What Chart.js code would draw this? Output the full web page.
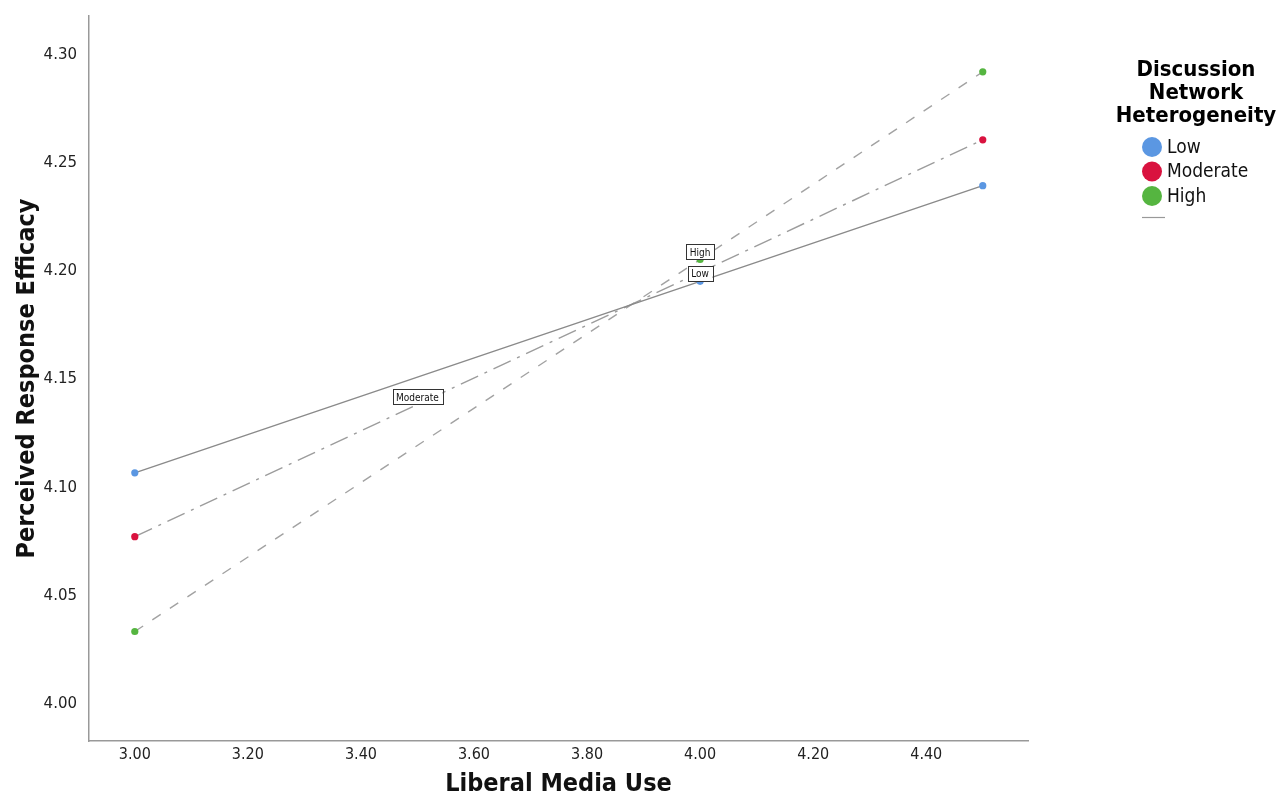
<!DOCTYPE html>
<html><head><meta charset="utf-8">
<script src="https://cdn.jsdelivr.net/npm/chart.js@4.4.1/dist/chart.umd.min.js"></script>
<style>html,body{margin:0;padding:0;background:#fff}#wrap{width:1281px;height:803px;position:relative}</style>
</head><body><div id="wrap"><canvas id="c" width="1281" height="803"></canvas></div>
<script>
const xValues = [3.00, 4.00, 4.50];
const lowValues = [4.1069, 4.1954, 4.2396];
const moderateValues = [4.0774, 4.1996, 4.2608];
const highValues = [4.0336, 4.2055, 4.2922];
const seriesNames = ['Low', 'Moderate', 'High'];
const labelXs = [4.00, 3.50, 4.00];
const yTicks = [4.00, 4.05, 4.10, 4.15, 4.20, 4.25, 4.30];
const xTicks = [3.00, 3.20, 3.40, 3.60, 3.80, 4.00, 4.20, 4.40];
const legendTitle = ['Discussion', 'Network', 'Heterogeneity'];
const xTitle = 'Liberal Media Use';
const yTitle = 'Perceived Response Efficacy';

const pointColors = ['#5b97e2', '#d9123f', '#55b540'];
const lineColors = ['#8a8a8a', '#9c9c9c', '#a2a2a2'];
const dashes = [[], [19, 7, 3, 7], [10, 11]];
const allValues = [lowValues, moderateValues, highValues];

const condensed = '"DejaVu Sans Condensed", "Liberation Sans Narrow", "Liberation Sans", sans-serif';

const datasets = seriesNames.map((n, i) => ({
  label: n,
  data: xValues.map((x, j) => ({x: x, y: allValues[i][j]})),
  borderColor: lineColors[i],
  borderWidth: 1.4,
  borderDash: dashes[i],
  pointBackgroundColor: pointColors[i],
  pointBorderColor: pointColors[i],
  pointRadius: 3.6,
  pointBorderWidth: 0,
  tension: 0,
  fill: false
}));

function interp(data, x) {
  for (let k = 0; k < data.length - 1; k++) {
    const a = data[k], b = data[k + 1];
    if (x >= a.x && x <= b.x) return a.y + (b.y - a.y) * (x - a.x) / (b.x - a.x);
  }
  return data[0].y;
}

const extras = {
  id: 'extras',
  afterDatasetsDraw(chart) {
    const ctx = chart.ctx, xs = chart.scales.x, ys = chart.scales.y;
    ctx.save();
    ctx.font = '10px "DejaVu Sans Condensed", "Liberation Sans", Arial, sans-serif';
    ctx.textAlign = 'center';
    ctx.textBaseline = 'middle';
    chart.data.datasets.forEach((ds, i) => {
      const px = xs.getPixelForValue(labelXs[i]);
      const py = ys.getPixelForValue(interp(ds.data, labelXs[i]));
      const w = ctx.measureText(ds.label).width + 7, h = 15;
      const cy = py - 7.5;
      ctx.fillStyle = '#fff';
      ctx.fillRect(px - w / 2, cy - h / 2, w, h);
      ctx.strokeStyle = '#333';
      ctx.lineWidth = 1;
      ctx.strokeRect(Math.round(px - w / 2) + 0.5, Math.round(cy - h / 2) + 0.5, Math.round(w), h);
      ctx.fillStyle = '#111';
      ctx.fillText(ds.label, px, cy + 1);
    });
    ctx.restore();
    ctx.save();
    ctx.fillStyle = '#000';
    ctx.textAlign = 'center';
    ctx.textBaseline = 'middle';
    ctx.font = 'bold 22px "DejaVu Sans Condensed", "Liberation Sans", Arial, sans-serif';
    const lx = 1196;
    legendTitle.forEach((t, k) => ctx.fillText(t, lx, 70 + k * 23));
    ctx.textAlign = 'left';
    ctx.font = '19px "DejaVu Sans Condensed", "Liberation Sans", Arial, sans-serif';
    chart.data.datasets.forEach((ds, i) => {
      const y = 147 + i * 24.5;
      ctx.beginPath();
      ctx.arc(1152, y, 10, 0, Math.PI * 2);
      ctx.fillStyle = ds.pointBackgroundColor;
      ctx.fill();
      ctx.fillStyle = '#111';
      ctx.fillText(ds.label, 1167, y + 1);
    });
    ctx.strokeStyle = '#999';
    ctx.lineWidth = 1.2;
    ctx.beginPath();
    ctx.moveTo(1142, 217.5);
    ctx.lineTo(1165, 217.5);
    ctx.stroke();
    ctx.restore();
  }
};

new Chart(document.getElementById('c'), {
  type: 'line',
  data: {datasets: datasets},
  options: {
    responsive: false,
    animation: false,
    events: [],
    layout: {padding: {top: 16, right: 253, left: 0, bottom: 0}},
    plugins: {legend: {display: false}, tooltip: {enabled: false}},
    scales: {
      x: {
        type: 'linear',
        min: 2.919, max: 4.58,
        afterBuildTicks: s => { s.ticks = xTicks.map(v => ({value: v})); },
        afterFit: s => { s.height = 62; s.paddingLeft = 0; s.paddingRight = 0; },
        grid: {display: false, drawTicks: false},
        border: {display: true, color: '#999', width: 1.5},
        ticks: {
          callback: v => Number(v).toFixed(2),
          color: '#222', padding: 4, maxRotation: 0,
          font: {size: 16, family: condensed}
        },
        title: {display: true, text: xTitle, color: '#111', padding: {top: 18},
          font: {size: 25, weight: 'bold', family: condensed}}
      },
      y: {
        type: 'linear',
        min: 3.983, max: 4.318,
        afterBuildTicks: s => { s.ticks = yTicks.map(v => ({value: v})); },
        afterFit: s => { s.width = 89; s.paddingTop = 0; s.paddingBottom = 0; },
        grid: {display: false, drawTicks: false},
        border: {display: true, color: '#999', width: 1.5},
        ticks: {
          callback: v => Number(v).toFixed(2),
          color: '#222', padding: 12,
          font: {size: 15, family: '"DejaVu Sans", sans-serif'}
        },
        title: {display: true, text: yTitle, color: '#111', padding: {top: 12, bottom: 0},
          font: {size: 25, weight: 'bold', family: condensed}}
      }
    }
  },
  plugins: [extras]
});
</script></body></html>
